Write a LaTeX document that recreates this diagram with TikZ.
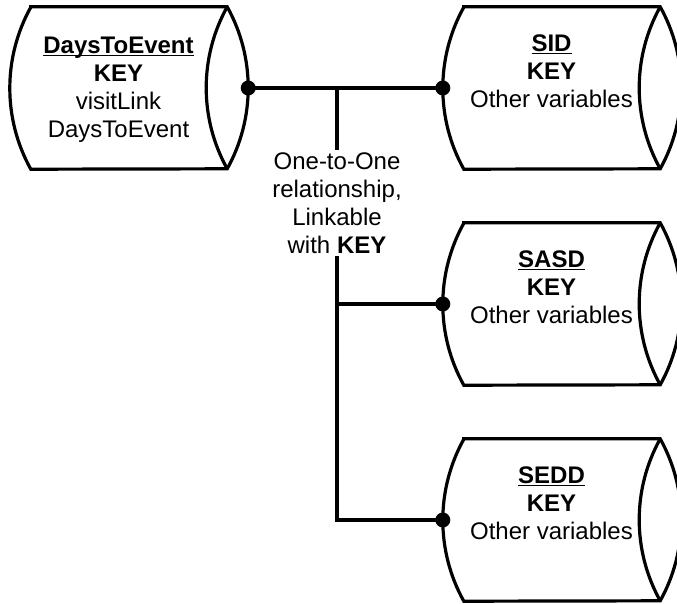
\documentclass[tikz,border=0pt]{standalone}
\usepackage{fontspec}
\setmainfont{Liberation Sans}
\newcommand\storeoutline[1]{%
  \draw[storeline] ([xshift=21pt]#1.north west) -- (#1.north east)
     arc[start angle=29.07, end angle=-29.07, radius=166.71pt]
     -- ([xshift=21pt]#1.south west)
     arc[start angle=209.07, end angle=150.93, radius=166.71pt] -- cycle;
  \draw[storeline] (#1.north east) arc[start angle=150.93, end angle=209.07, radius=166.71pt];
}
\newcommand\storetitle[1]{\underline{\smash{\textbf{#1}}}\strut}
\begin{document}
\begin{tikzpicture}[x=1pt,y=1pt,
  storeline/.style={line width=3.2pt, line join=miter},
  storetext/.style={minimum width=217pt, minimum height=162pt, inner sep=0pt, align=center, font=\fontsize{24}{28}\selectfont},
  link/.style={line width=3.2pt},
  dot/.style={fill=black},
  lbl/.style={fill=white, align=center, inner sep=3pt, font=\fontsize{24}{28}\selectfont}]
\useasboundingbox (0,0) rectangle (677,-603);

\node[storetext] (dte) at (118.5,-88) {\storetitle{DaysToEvent}\\\textbf{KEY}\\visitLink\\DaysToEvent};
\node[storetext] (sid) at (551.5,-88) {\storetitle{SID}\\\textbf{KEY}\\Other variables\\\strut};
\node[storetext] (sasd) at (551.5,-304) {\storetitle{SASD}\\\textbf{KEY}\\Other variables\\\strut};
\node[storetext] (sedd) at (551.5,-520) {\storetitle{SEDD}\\\textbf{KEY}\\Other variables\\\strut};

\storeoutline{dte}
\storeoutline{sid}
\storeoutline{sasd}
\storeoutline{sedd}

\coordinate (dteport) at ([xshift=21pt]dte.east);
\coordinate (j1) at (337,-88);

\draw[link] (dteport) -- (sid.west);
\draw[link] (j1) -- (j1 |- sedd.west) -- (sedd.west);
\draw[link] (j1 |- sasd.west) -- (sasd.west);

\node[lbl] (rel) at (337,-203) {One-to-One\\relationship,\\Linkable\\with \textbf{KEY}};

\fill[dot] (dteport) circle[radius=7.5pt];
\fill[dot] (sid.west) circle[radius=7.5pt];
\fill[dot] (sasd.west) circle[radius=7.5pt];
\fill[dot] (sedd.west) circle[radius=7.5pt];
\end{tikzpicture}
\end{document}
